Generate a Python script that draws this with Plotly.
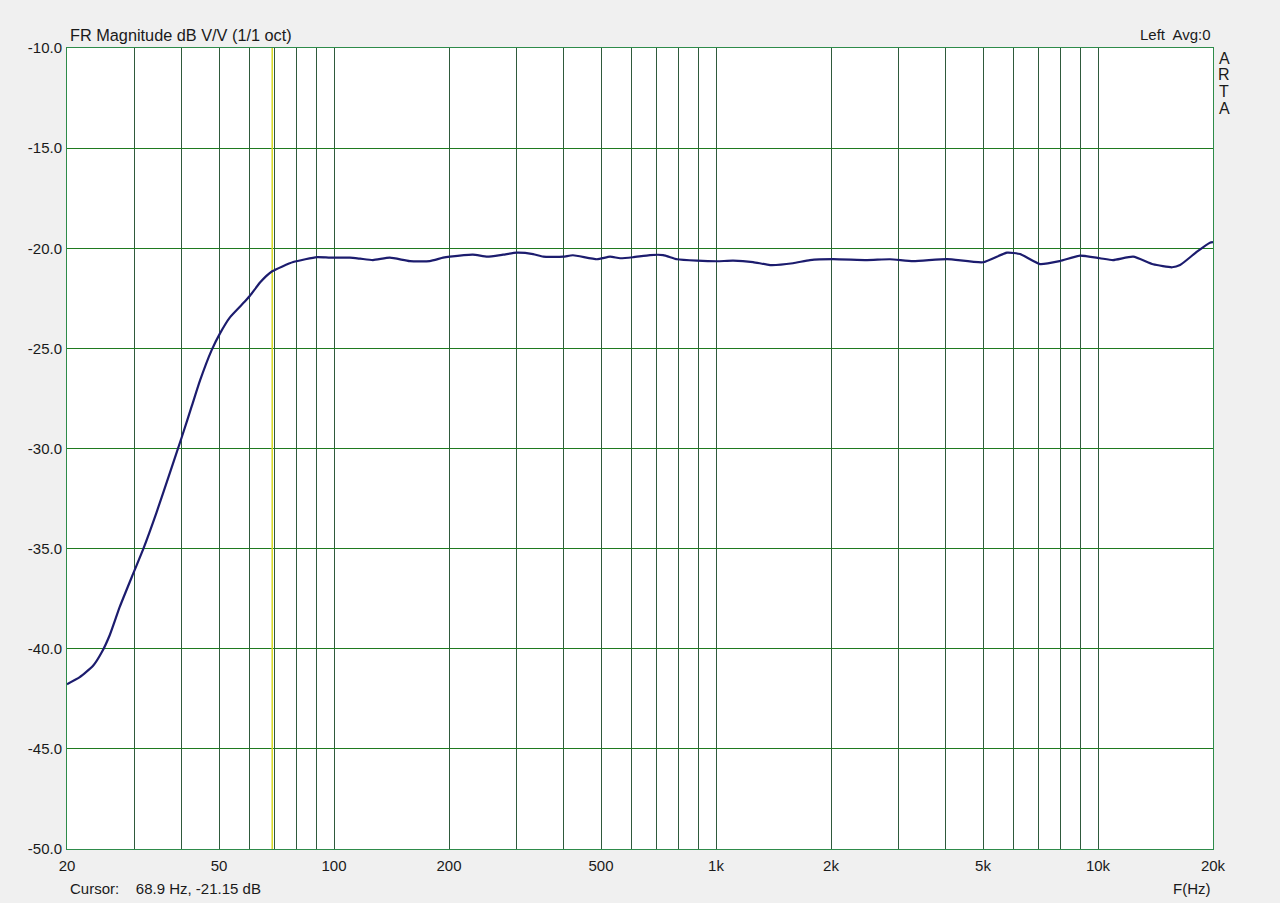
import plotly.graph_objects as go

# Frequency response (Hz, dB)
freq_hz = [20, 21.6, 23.4, 24.7, 25.9, 27.5, 29.8, 31.7, 34.3, 37.2, 40.0, 42.4, 44.6, 47.8,
           50.3, 53.4, 58.5, 60.4, 64.1, 68.9, 78.2, 90.3, 97.6, 110, 117, 126.5, 140, 158, 178, 193,
           201, 231, 252, 277, 301, 332, 353, 398, 422, 488, 528, 561, 606, 672, 727, 791, 892,
           1006, 1108, 1250, 1385, 1590, 1762, 2024, 2485, 2854, 3281, 4026, 5000, 5780, 6250,
           7050, 7945, 8970, 10120, 10950, 12360, 13940, 15630, 16400, 18160, 19640, 20000]
mag_db = [-41.77, -41.42, -40.85, -40.15, -39.3, -37.9, -36.25, -35.0, -33.2, -31.2, -29.4,
          -27.9, -26.6, -25.1, -24.25, -23.45, -22.65, -22.35, -21.7, -21.15, -20.69,
          -20.44, -20.47, -20.47, -20.52, -20.59, -20.47, -20.64, -20.64, -20.47, -20.42, -20.32,
          -20.42, -20.32, -20.22, -20.29, -20.42, -20.42, -20.35, -20.55, -20.42, -20.50, -20.45,
          -20.34, -20.34, -20.55, -20.62, -20.65, -20.62, -20.69, -20.84, -20.75, -20.59, -20.54,
          -20.59, -20.55, -20.64, -20.54, -20.70, -20.22, -20.29, -20.79, -20.64, -20.37, -20.50,
          -20.59, -20.42, -20.80, -20.95, -20.84, -20.17, -19.72, -19.69]

cursor_hz = 68.9
cursor_db = -21.15

grid_hz = [20, 30, 40, 50, 60, 70, 80, 90, 100, 200, 300, 400, 500, 600, 700, 800, 900,
           1000, 2000, 3000, 4000, 5000, 6000, 7000, 8000, 9000, 10000, 20000]
labeled = {20: "20", 50: "50", 100: "100", 200: "200", 500: "500", 1000: "1k",
           2000: "2k", 5000: "5k", 10000: "10k", 20000: "20k"}
grid_text = [labeled.get(v, "") for v in grid_hz]
y_ticks = [-10, -15, -20, -25, -30, -35, -40, -45, -50]

L, R, T, B = 67, 1213, 48, 849
W, H = 1280, 903


def px(x):
    return (x - L) / (R - L)


def py(y):
    return (B - y) / (B - T)


font = "Liberation Sans, Arial, sans-serif"
txtcol = "#1a1a1a"

fig = go.Figure()
fig.add_trace(go.Scatter(x=[cursor_hz, cursor_hz], y=[-50, -10], mode="lines",
                         line=dict(color="#d8d820", width=1.5), hoverinfo="skip"))
fig.add_trace(go.Scatter(x=freq_hz, y=mag_db, mode="lines",
                         line=dict(color="#1c1c6e", width=2.2, shape="spline", smoothing=0.5)))

fig.update_layout(
    width=W, height=H,
    margin=dict(l=L, r=W - R, t=T, b=H - B),
    paper_bgcolor="#f0f0f0", plot_bgcolor="#ffffff",
    showlegend=False,
    font=dict(family=font, size=15, color=txtcol),
)
fig.update_xaxes(type="log", range=[1.30103, 4.30103],
                 tickvals=grid_hz, ticktext=grid_text, tickangle=0,
                 showgrid=True, gridcolor="#2f5a3c", gridwidth=1,
                 ticks="outside", ticklen=3, tickcolor="rgba(0,0,0,0)",
                 showline=True, linecolor="#2e8b4a", linewidth=1, mirror=True,
                 zeroline=False, tickfont=dict(size=15, color=txtcol))
fig.update_yaxes(range=[-50, -10], tickvals=y_ticks,
                 ticktext=[f"{v:.1f}" for v in y_ticks],
                 showgrid=True, gridcolor="#1f7a1f", gridwidth=1,
                 ticks="outside", ticklen=1, tickcolor="rgba(0,0,0,0)",
                 showline=True, linecolor="#2e8b4a", linewidth=1, mirror=True,
                 zeroline=False, tickfont=dict(size=15, color=txtcol))

ann = []
ann.append(dict(text="FR Magnitude dB V/V (1/1 oct)", x=px(68), y=py(35), xanchor="left",
                yanchor="middle", showarrow=False, font=dict(size=16.3)))
ann.append(dict(text="Left  Avg:0", x=px(1213), y=py(35), xanchor="right",
                yanchor="middle", showarrow=False, font=dict(size=15)))
for i, ch in enumerate("ARTA"):
    ann.append(dict(text=ch, x=px(1224), y=py(58 + i * 16.7), xanchor="center",
                    yanchor="middle", showarrow=False, font=dict(size=16)))
ann.append(dict(text=f"Cursor:    {cursor_hz} Hz, {cursor_db:.2f} dB", x=px(68), y=py(889),
                xanchor="left", yanchor="middle", showarrow=False, font=dict(size=15)))
ann.append(dict(text="F(Hz)", x=px(1213), y=py(889), xanchor="right",
                yanchor="middle", showarrow=False, font=dict(size=15)))
for a in ann:
    a["xref"] = "paper"
    a["yref"] = "paper"
fig.update_layout(annotations=ann)

fig.write_html("out.html", config={"displayModeBar": False},
               post_script="document.body.style.margin='0';"
                           "document.body.style.background='#f0f0f0';"
                           "document.body.style.overflow='hidden';")
